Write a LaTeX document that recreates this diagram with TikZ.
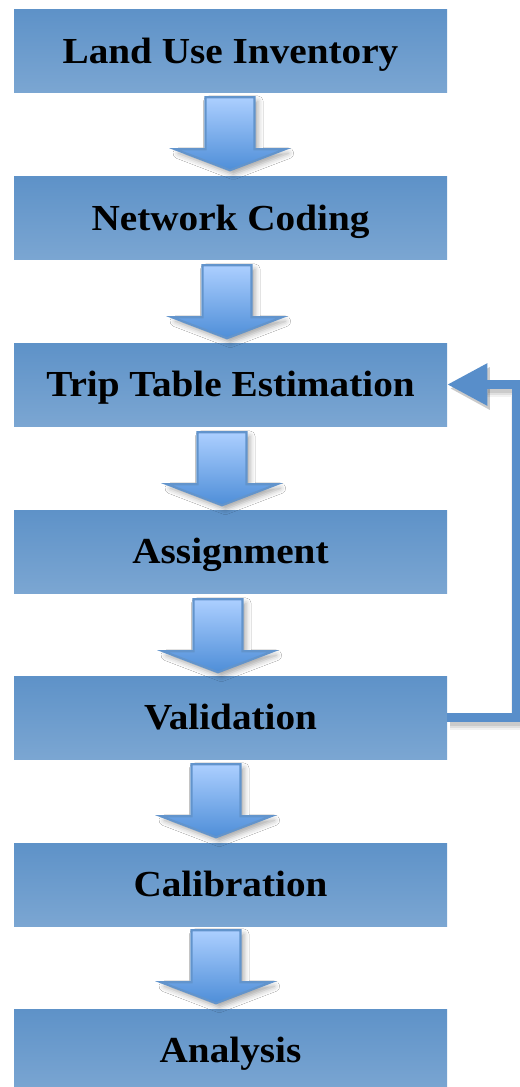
\documentclass[tikz,border=0pt]{standalone}
\usepackage{fontspec}
\setmainfont{Liberation Serif}
\usetikzlibrary{arrows.meta,shadows.blur,calc}

\definecolor{boxtop}{RGB}{94,146,200}
\definecolor{boxbot}{RGB}{123,166,210}
\definecolor{arrtop}{RGB}{172,207,255}
\definecolor{arrbot}{RGB}{78,142,216}
\definecolor{arredge}{RGB}{98,148,204}
\definecolor{loopblue}{RGB}{88,142,202}

\tikzset{
  stage/.style={rectangle, inner sep=0pt, minimum width=324.75pt,
    minimum height=62.25pt, top color=boxtop, bottom color=boxbot,
    text height=18pt, text depth=0pt,
    font=\bfseries\fontsize{27.5}{30}\selectfont, text=black},
  blockarrow/.style={top color=arrtop, bottom color=arrbot, draw=arredge,
    line width=1.6pt, line join=miter,
    blur shadow={shadow xshift=2.5pt, shadow yshift=-3pt,
      shadow blur radius=4pt, shadow opacity=35}},
  blockarr/.pic={
    \path[blockarrow] (-24.5,0) -- (24.5,0) -- (24.5,52) -- (55,52)
      -- (0,73) -- (-55,52) -- (-24.5,52) -- cycle;
  },
  feedback/.style={draw=loopblue, line width=6.5pt, line join=miter,
    -{Triangle[length=30pt,width=30pt]}},
  feedshadow/.style={black, line join=miter,
    -{Triangle[length=30pt,width=30pt]},
    transform canvas={shift={(2pt,-3pt)}}},
}

\newcommand{\stagetext}[1]{\scalebox{1.07}[1]{#1}}

\begin{document}
\begin{tikzpicture}[x=0.75pt, y=-0.75pt]
  \useasboundingbox (0,0) rectangle (520,1087);
  \fill[white] (0,0) rectangle (520,1087);

  % process stages
  \node[stage] (land)  at (230.5,51.5)   {\stagetext{Land Use Inventory}};
  \node[stage] (net)   at (230.5,218.5)  {\stagetext{Network Coding}};
  \node[stage] (trip)  at (230.5,384.5)  {\stagetext{Trip Table Estimation}};
  \node[stage] (assig) at (230.5,551.5)  {\stagetext{Assignment}};
  \node[stage] (val)   at (230.5,717.5)  {\stagetext{Validation}};
  \node[stage] (cal)   at (230.5,884.5)  {\stagetext{Calibration}};
  \node[stage] (ana)   at (230.5,1050.5) {\stagetext{Analysis}};

  % block arrows between stages
  \pic at ($(land.south)+(-0.5,4)$)   {blockarr};
  \pic at ($(net.south)+(-3.5,5)$)    {blockarr};
  \pic at ($(trip.south)+(-8.5,6)$)   {blockarr};
  \pic at ($(assig.south)+(-12.5,6)$) {blockarr};
  \pic at ($(val.south)+(-14.5,5)$)   {blockarr};
  \pic at ($(cal.south)+(-14.5,4)$)   {blockarr};

  % feedback loop from validation back to trip table estimation
  \foreach \w/\o in {13/0.05, 10/0.07, 7/0.09}
    \draw[feedshadow, line width=\w pt, opacity=\o]
      (val.east) -- ++(69.5,0) |- (trip.east);
  \draw[feedback] (val.east) -- ++(69.5,0) |- (trip.east);
\end{tikzpicture}
\end{document}
